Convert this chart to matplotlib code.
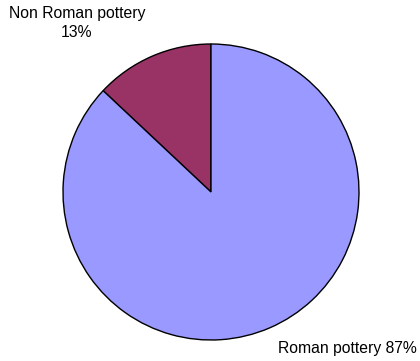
import matplotlib
matplotlib.use("Agg")
import matplotlib.pyplot as plt

# data
labels = ["Non Roman pottery", "Roman pottery"]
shares = [13, 87]
colors = ["#993366", "#9999FF"]

plt.rcParams["font.family"] = ["Liberation Sans", "DejaVu Sans"]

fig = plt.figure(figsize=(4.2, 3.61), dpi=100)
ax = fig.add_axes([63 / 420, 21 / 361, 296 / 420, 296 / 361])

ax.pie(shares, colors=colors, startangle=90, counterclock=True,
       wedgeprops=dict(edgecolor="black", linewidth=1.0))
ax.set_xlim(-1.0, 1.0)
ax.set_ylim(-1.0, 1.0)
ax.set_aspect("equal")
ax.axis("off")

# slice labels
fig.text(77 / 420, 1 - 6 / 361, f"{labels[0]}\n{shares[0]}%", ha="center", va="top",
         fontsize=11.3, linespacing=1.3)
fig.text(417 / 420, 1 - 349 / 361, f"{labels[1]} {shares[1]}%", ha="right", va="center",
         fontsize=11.3)

fig.savefig("out.png", dpi=100)
